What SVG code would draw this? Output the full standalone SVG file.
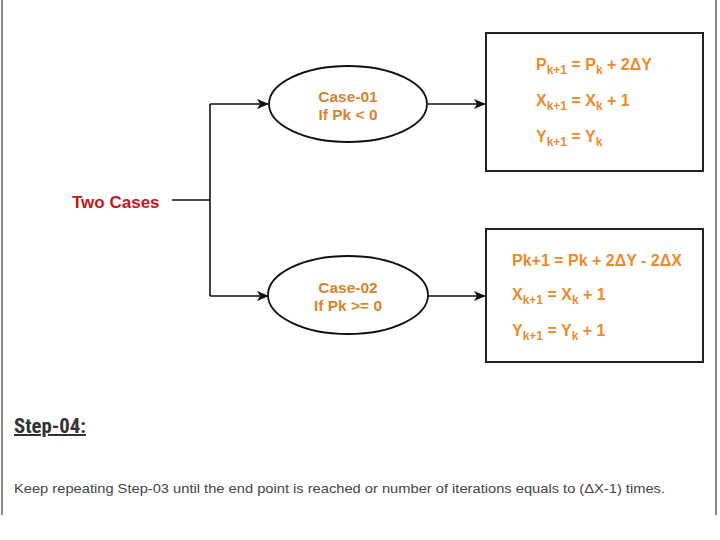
<svg xmlns="http://www.w3.org/2000/svg" width="720" height="540" viewBox="0 0 720 540">
<defs>
<marker id="arr" markerWidth="12" markerHeight="10" refX="11" refY="5" orient="auto" markerUnits="userSpaceOnUse">
<path d="M0,0 L12,5 L0,10 L3,5 Z" fill="#111"/>
</marker>
<style>
.conn{fill:none;stroke:#111;stroke-width:1.6}
.ell{fill:#fff;stroke:#111;stroke-width:1.8}
.box{fill:#fff;stroke:#222;stroke-width:2}
.case{font-family:"Liberation Sans",Arial,sans-serif;font-weight:bold;font-size:15.5px;fill:#D9832E;text-anchor:middle}
.eq{font-family:"Liberation Sans",Arial,sans-serif;font-weight:bold;font-size:16px;fill:#EE8A2C}
.sub{font-size:12px}
.edge{stroke:#888;stroke-width:2}
</style>
</defs>
<rect width="720" height="540" fill="#fff"/>
<line class="edge" x1="2" y1="0" x2="2" y2="515"/>
<line class="edge" x1="716" y1="0" x2="716" y2="515"/>

<g id="connectors">
<path class="conn" d="M172,200 H210"/>
<path class="conn" d="M210,104 V296"/>
<path class="conn" d="M210,104 H268" marker-end="url(#arr)"/>
<path class="conn" d="M210,296 H268" marker-end="url(#arr)"/>
<path class="conn" d="M428,104 H485" marker-end="url(#arr)"/>
<path class="conn" d="M428,296 H485" marker-end="url(#arr)"/>
</g>

<g id="two-cases">
<text x="72" y="208" font-family="Liberation Sans,Arial,sans-serif" font-weight="bold" font-size="17" fill="#C4161C">Two Cases</text>
</g>

<g id="case-01">
<ellipse class="ell" cx="348" cy="104" rx="79" ry="38"/>
<text class="case" x="348" y="102">Case-01</text>
<text class="case" x="348" y="120">If Pk &lt; 0</text>
</g>

<g id="case-02">
<ellipse class="ell" cx="348" cy="295" rx="80" ry="39"/>
<text class="case" x="348" y="293">Case-02</text>
<text class="case" x="348" y="311">If Pk &gt;= 0</text>
</g>

<g id="box-01">
<rect class="box" x="486" y="33" width="217" height="138"/>
<text class="eq" x="536" y="70">P<tspan class="sub" dy="4">k+1</tspan><tspan dy="-4"> = P</tspan><tspan class="sub" dy="4">k</tspan><tspan dy="-4"> + 2ΔY</tspan></text>
<text class="eq" x="536" y="106">X<tspan class="sub" dy="4">k+1</tspan><tspan dy="-4"> = X</tspan><tspan class="sub" dy="4">k</tspan><tspan dy="-4"> + 1</tspan></text>
<text class="eq" x="536" y="142">Y<tspan class="sub" dy="4">k+1</tspan><tspan dy="-4"> = Y</tspan><tspan class="sub" dy="4">k</tspan></text>
</g>

<g id="box-02">
<rect class="box" x="486" y="229" width="217" height="133"/>
<text class="eq" x="512" y="266">Pk+1 = Pk + 2ΔY - 2ΔX</text>
<text class="eq" x="512" y="300">X<tspan class="sub" dy="4">k+1</tspan><tspan dy="-4"> = X</tspan><tspan class="sub" dy="4">k</tspan><tspan dy="-4"> + 1</tspan></text>
<text class="eq" x="512" y="336">Y<tspan class="sub" dy="4">k+1</tspan><tspan dy="-4"> = Y</tspan><tspan class="sub" dy="4">k</tspan><tspan dy="-4"> + 1</tspan></text>
</g>

<text x="14" y="433" font-family="Liberation Sans Narrow,Roboto Condensed,Liberation Sans,sans-serif" font-weight="bold" font-size="20" fill="#333" text-decoration="underline" textLength="72" lengthAdjust="spacingAndGlyphs">Step-04:</text>
<text x="14" y="493" font-family="Liberation Sans,Arial,sans-serif" font-size="13.5" fill="#444" textLength="651" lengthAdjust="spacingAndGlyphs">Keep repeating Step-03 until the end point is reached or number of iterations equals to (ΔX-1) times.</text>
</svg>
